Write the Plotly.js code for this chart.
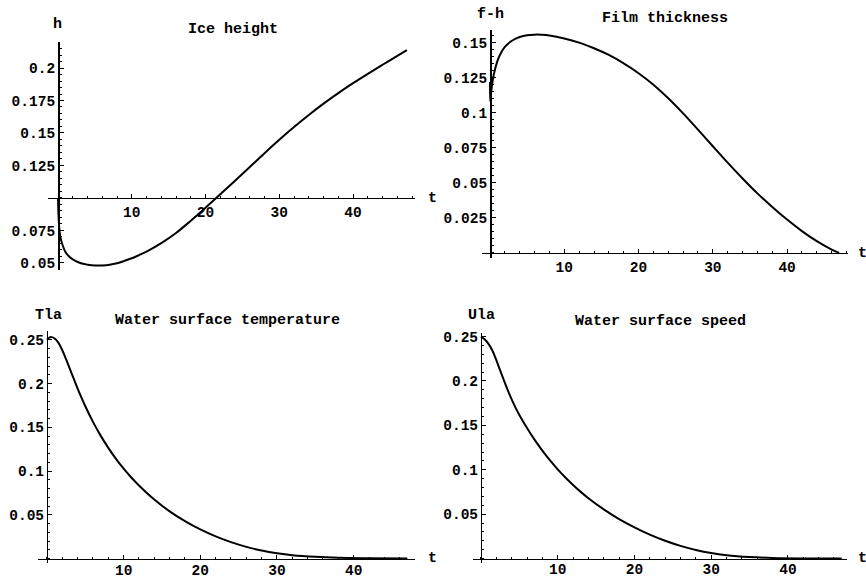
<!DOCTYPE html>
<html>
<head>
<meta charset="utf-8">
<script src="https://cdn.plot.ly/plotly-3.0.1.min.js"></script>
<style>
  html, body { margin: 0; padding: 0; background: #ffffff; }
  #chart { width: 866px; height: 579px; }
</style>
</head>
<body>
<div id="chart"></div>
<script>
// Ice height h(t)
const tIce = [0, 0.05, 0.15, 0.3, 0.6, 1, 1.5, 2, 3, 4, 5, 6, 7, 8, 9, 10, 11, 12, 14, 16, 18, 20, 22, 24, 26, 28, 30, 32, 34, 36, 38, 40, 42, 44, 46, 47.3];
const hIce = [0.1, 0.089, 0.078, 0.0705, 0.064, 0.0585, 0.055, 0.0527, 0.05, 0.0487, 0.048, 0.04815, 0.0487, 0.04985, 0.0516, 0.0536, 0.0561, 0.0588, 0.0653, 0.0731, 0.0825, 0.0925, 0.1028, 0.1133, 0.1239, 0.1345, 0.1448, 0.1546, 0.1639, 0.1726, 0.1807, 0.1883, 0.1955, 0.2025, 0.2093, 0.2137];

// Film thickness f-h
const tFilm = [0, 0.03, 0.1, 0.25, 0.5, 1, 1.5, 2, 3, 4, 5, 6, 7, 8, 10, 12, 14, 16, 18, 20, 22, 24, 26, 28, 30, 32, 34, 36, 38, 40, 42, 44, 46, 47];
const film  = [0.122, 0.108, 0.111, 0.119, 0.127, 0.137, 0.143, 0.147, 0.1515, 0.154, 0.1553, 0.1557, 0.1556, 0.1551, 0.153, 0.15, 0.146, 0.1412, 0.1352, 0.1282, 0.12, 0.1103, 0.0995, 0.0879, 0.0761, 0.0644, 0.0531, 0.0425, 0.0328, 0.0238, 0.0156, 0.0084, 0.0024, 0];

// Water surface temperature Tla
const tTemp = [0, 0.3, 0.6, 1, 1.5, 2, 2.5, 3, 3.5, 4, 4.5, 5, 6, 7, 8, 9, 10, 11, 12, 14, 16, 18, 20, 22, 24, 26, 28, 30, 32, 35, 38, 42, 47];
const temp  = [0.25, 0.2525, 0.253, 0.2515, 0.2465, 0.238, 0.2275, 0.2165, 0.2052, 0.1942, 0.1838, 0.174, 0.1562, 0.1405, 0.1265, 0.114, 0.1028, 0.0927, 0.0836, 0.0675, 0.054, 0.0428, 0.0333, 0.0254, 0.0188, 0.0134, 0.0092, 0.0061, 0.0039, 0.002, 0.001, 0.0005, 0.0002];

// Water surface speed Ula
const tSpeed = [0, 0.5, 1, 1.5, 2, 2.5, 3, 3.5, 4, 4.5, 5, 6, 7, 8, 9, 10, 11, 12, 13, 14, 16, 18, 20, 22, 24, 26, 28, 30, 32, 35, 38, 42, 47];
const speed  = [0.25, 0.2466, 0.2415, 0.234, 0.2235, 0.2118, 0.2005, 0.1895, 0.1792, 0.17, 0.1617, 0.147, 0.1336, 0.1215, 0.1105, 0.1005, 0.0913, 0.0829, 0.0751, 0.068, 0.0554, 0.0445, 0.0352, 0.027, 0.0201, 0.0143, 0.0097, 0.0062, 0.0038, 0.0017, 0.0007, 0.0002, 0.0001];

// Tick labels
const tTicks = [10, 20, 30, 40];
const hTicks = [0.05, 0.075, 0.125, 0.15, 0.175, 0.2];
const hTickText = ['0.05', '0.075', '0.125', '0.15', '0.175', '0.2'];
const filmTicks = [0.025, 0.05, 0.075, 0.1, 0.125, 0.15];
const filmTickText = ['0.025', '0.05', '0.075', '0.1', '0.125', '0.15'];
const surfTicks = [0.05, 0.1, 0.15, 0.2, 0.25];
const surfTickText = ['0.05', '0.1', '0.15', '0.2', '0.25'];

const W = 866, H = 579;
const FONT_FAMILY = 'Liberation Mono, Courier New, monospace';
const tickFont = { family: FONT_FAMILY, size: 14.5, color: '#000', weight: 'bold' };
const labelFont = { family: FONT_FAMILY, size: 15, color: '#000', weight: 'bold' };

// Frame of each panel in pixels (extent of the axis lines), ranges and axis crossing point
const panels = [
  { t: tIce,   v: hIce,  px: [48, 415],  py: [42, 270],  xr: [-1.36, 48.4], yr: [0.0446, 0.22],
    yCross: 0.1, yTicks: hTicks, yText: hTickText, yMinor: 0.005, xStand: 0,
    title: 'Ice height', titlePos: [233, 30], yLabel: 'h', yLabelPos: [57, 24], tLabelPos: [432, 198] },
  { t: tFilm,  v: film,  px: [482, 848], py: [30, 258],  xr: [-1.08, 48.2], yr: [-0.0036, 0.159],
    yCross: 0, yTicks: filmTicks, yText: filmTickText, yMinor: 0.005, xStand: 0,
    title: 'Film thickness', titlePos: [665, 18], yLabel: 'f-h', yLabelPos: [490, 14], tLabelPos: [862, 253] },
  { t: tTemp,  v: temp,  px: [38, 415],  py: [331, 563], xr: [-1.17, 48.0], yr: [-0.005, 0.26],
    yCross: 0, yTicks: surfTicks, yText: surfTickText, yMinor: 0.01, xStand: -3,
    title: 'Water surface temperature', titlePos: [227, 320], yLabel: 'Tla', yLabelPos: [48, 315], tLabelPos: [432, 558] },
  { t: tSpeed, v: speed, px: [473, 847], py: [333, 563], xr: [-1.04, 47.7], yr: [-0.005, 0.254],
    yCross: 0, yTicks: surfTicks, yText: surfTickText, yMinor: 0.01, xStand: -3,
    title: 'Water surface speed', titlePos: [660, 321], yLabel: 'Ula', yLabelPos: [481, 315], tLabelPos: [862, 558] }
];

const data = [];
const layout = {
  width: W, height: H,
  margin: { l: 0, r: 0, t: 0, b: 0, pad: 0 },
  paper_bgcolor: '#ffffff', plot_bgcolor: 'rgba(0,0,0,0)',
  showlegend: false,
  annotations: []
};

function ann(text, pos, font, xanchor) {
  return {
    text: text, xref: 'paper', yref: 'paper',
    x: pos[0] / W, y: 1 - pos[1] / H,
    xanchor: xanchor || 'center', yanchor: 'middle',
    showarrow: false, font: font
  };
}

panels.forEach((p, i) => {
  const n = i === 0 ? '' : String(i + 1);
  const xd = [p.px[0] / W, p.px[1] / W];
  const yd = [1 - p.py[1] / H, 1 - p.py[0] / H];
  // paper positions where the axes cross: t = 0 and y = yCross
  const xPos = yd[0] + (p.yCross - p.yr[0]) / (p.yr[1] - p.yr[0]) * (yd[1] - yd[0]);
  const yPos = xd[0] + (0 - p.xr[0]) / (p.xr[1] - p.xr[0]) * (xd[1] - xd[0]);

  data.push({
    x: p.t, y: p.v, xaxis: 'x' + n, yaxis: 'y' + n,
    type: 'scatter', mode: 'lines',
    line: { color: '#000', width: 2, shape: 'spline', smoothing: 1 },
    hoverinfo: 'skip'
  });

  layout['xaxis' + n] = {
    domain: xd, range: p.xr, anchor: 'free', position: xPos,
    showline: true, linecolor: '#000', linewidth: 1.5,
    showgrid: false, zeroline: false,
    tickmode: 'array', tickvals: tTicks, ticktext: tTicks.map(String),
    ticks: 'inside', ticklen: 4, tickwidth: 1, tickcolor: '#000',
    ticklabelstandoff: p.xStand,
    minor: { tickmode: 'linear', tick0: 0, dtick: 2, ticks: 'inside', ticklen: 2, tickwidth: 1, tickcolor: '#000' },
    tickfont: tickFont, fixedrange: true
  };
  layout['yaxis' + n] = {
    domain: yd, range: p.yr, anchor: 'free', position: yPos,
    showline: true, linecolor: '#000', linewidth: 1.5,
    showgrid: false, zeroline: false,
    tickmode: 'array', tickvals: p.yTicks, ticktext: p.yText,
    ticks: 'inside', ticklen: 4, tickwidth: 1, tickcolor: '#000',
    minor: { tickmode: 'linear', tick0: 0, dtick: p.yMinor, ticks: 'inside', ticklen: 2, tickwidth: 1, tickcolor: '#000' },
    tickfont: tickFont, fixedrange: true
  };

  layout.annotations.push(ann(p.title, p.titlePos, labelFont));
  layout.annotations.push(ann(p.yLabel, p.yLabelPos, labelFont));
  layout.annotations.push(ann('t', p.tLabelPos, labelFont));
});

Plotly.newPlot('chart', data, layout, { staticPlot: true, displayModeBar: false });
</script>
</body>
</html>
